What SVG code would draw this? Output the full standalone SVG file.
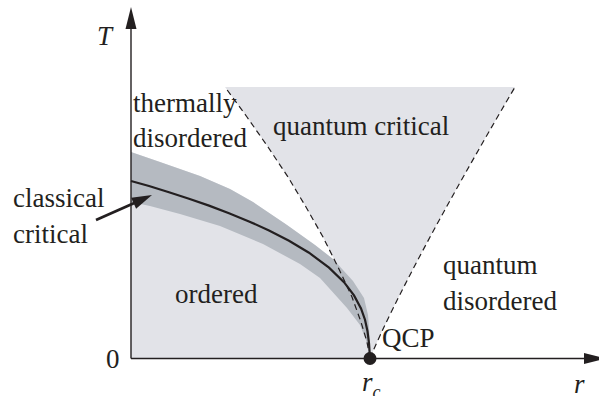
<svg xmlns="http://www.w3.org/2000/svg" width="599" height="396" viewBox="0 0 599 396">
<style>
.lbl{font-family:"Liberation Serif","Times New Roman",serif;font-size:27px;fill:#231f20}
.it{font-style:italic}
.dash{fill:none;stroke:#231f20;stroke-width:1.2;stroke-dasharray:6 4}
.ax{stroke:#231f20;stroke-width:1.4;fill:none}
.light{fill:#e2e3e8}
.band{fill:#b5bac1}
</style>
<rect width="599" height="396" fill="#ffffff"/>
<g id="regions">
<path id="fan" class="light" d="M370,358 L367,342 L361,322 L352,297 L338,267 L323,237 L306,207 L288,177 L268,147 L247,117 L225,87 L515,87 C440,215 395,300 370,358 Z"/>
<path id="ordered-region" class="light" d="M131,358 L131,152 L160,162 L200,176 L230,189 L253,202 L287,225 L315,245 L333,259 L353,281 L364,298 L368,315 L369.5,335 L370,358 Z"/>
<path id="critical-band" class="band" d="M131,152 L160,162 L200,176 L230,189 L253,202 L287,225 L315,245 L333,259 L353,281 L364,298 L368,315 L369.5,335 L370,358 L366,340 L360,325 L347,308 L320,278 L300,264 L263,244 L220,226 L180,214 L150,206 L131,202 Z"/>
</g>
<g id="connectors">
<path id="left-crossover" class="dash" d="M370,358 L367,342 L361,322 L352,297 L338,267 L323,237 L306,207 L288,177 L268,147 L247,117 L225,87"/>
<path id="right-crossover" class="dash" d="M370,358 C395,300 440,215 515,87"/>
<polyline id="phase-boundary" fill="none" stroke="#231f20" stroke-width="2.2" points="131,181 149,186 169,192.3 189,198.8 209,205.6 229,213.2 249,221.4 269,230.4 289,240.7 309,252.7 329,267.6 344,282.2 354,295.4 361,308.5 365,319.7 367.5,331.3 369,343 370,358"/>
<g id="label-arrow">
<line x1="96" y1="220" x2="136" y2="202.2" stroke="#231f20" stroke-width="2.8"/>
<polygon points="152,195 131.2,197.7 136.1,208.7" fill="#231f20"/>
</g>
</g>
<g id="axes">
<line class="ax" x1="131" y1="358.5" x2="131" y2="26"/>
<polygon points="131,7 125.5,29 136.5,29" fill="#231f20"/>
<line class="ax" x1="131" y1="358.5" x2="588" y2="358.5"/>
<polygon points="606,358.5 584,353 584,364" fill="#231f20"/>
<circle id="qcp-dot" cx="370" cy="358.5" r="6.5" fill="#231f20"/>
</g>
<g id="labels">
<text class="lbl it" x="97" y="45">T</text>
<text class="lbl" x="106" y="368">0</text>
<text class="lbl it" x="362" y="391">r<tspan font-size="18" dy="7">c</tspan></text>
<text class="lbl it" x="574" y="393">r</text>
<g id="thermally-disordered"><text class="lbl" x="133" y="112">thermally</text><text class="lbl" x="133" y="147">disordered</text></g>
<g id="quantum-critical"><text class="lbl" x="273" y="135">quantum critical</text></g>
<g id="classical-critical"><text class="lbl" x="13" y="207">classical</text><text class="lbl" x="13" y="243">critical</text></g>
<g id="ordered"><text class="lbl" x="175" y="303">ordered</text></g>
<g id="quantum-disordered"><text class="lbl" x="443" y="274">quantum</text><text class="lbl" x="443" y="310">disordered</text></g>
<g id="qcp"><text class="lbl" x="382" y="347">QCP</text></g>
</g>
</svg>
